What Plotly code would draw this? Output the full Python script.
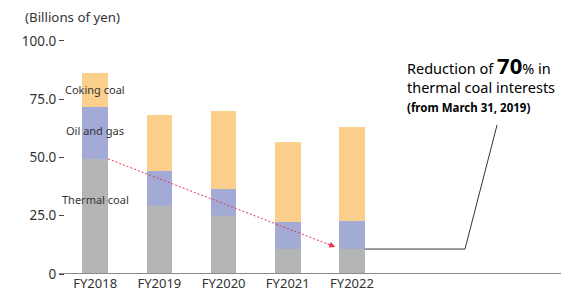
import plotly.graph_objects as go

categories = ["FY2018", "FY2019", "FY2020", "FY2021", "FY2022"]
thermal_coal = [49.4, 29.2, 24.9, 10.7, 10.7]
oil_and_gas = [22.4, 15.0, 11.4, 11.6, 12.2]
coking_coal = [14.5, 24.0, 33.8, 34.2, 40.2]
y_ticks = [0, 25, 50, 75, 100]
y_tick_labels = ["0", "25.0", "50.0", "75.0", "100.0"]

FONT = "Noto Sans"
x_idx = list(range(len(categories)))

fig = go.Figure()
for name, vals, col in [("Thermal coal", thermal_coal, "#B4B6B3"),
                        ("Oil and gas", oil_and_gas, "#A4AAD6"),
                        ("Coking coal", coking_coal, "#FBD08D")]:
    fig.add_trace(go.Bar(x=x_idx, y=vals, name=name, width=0.4,
                         marker=dict(color=col, line=dict(width=0)),
                         hoverinfo="skip"))

# page has an 8px body margin, so the figure is offset by 8px
fig.update_layout(
    barmode="stack", width=569, height=291,
    margin=dict(l=57, r=8, t=22, b=25, autoexpand=False),
    plot_bgcolor="white", paper_bgcolor="white", showlegend=False,
    font=dict(family=FONT, size=12, color="#333"),
    bargap=0,
)
fig.update_xaxes(range=[-0.47, 7.38], tickvals=x_idx, ticktext=categories,
                 showgrid=False, zeroline=False, showline=False, ticks="",
                 tickfont=dict(size=13, color="#333"), automargin=False)
fig.update_yaxes(range=[0, 104.7], tickvals=y_ticks, ticktext=y_tick_labels,
                 showgrid=False, zeroline=False, showline=False,
                 ticks="outside", ticklen=5, tickcolor="#444", tickwidth=1,
                 tickfont=dict(size=13.5, color="#333"), automargin=False)

# baseline
fig.add_shape(type="line", xref="paper", yref="y", x0=-0.012, x1=1.0, y0=0, y1=0,
              line=dict(color="#8a8a8a", width=2), layer="above")

# y-axis title
fig.add_annotation(text="(Billions of yen)", xref="paper", yref="paper",
                   x=-0.0833, y=1.055, xanchor="left", yanchor="middle",
                   showarrow=False, font=dict(size=13.3, color="#333"))

# series labels
for txt, yv in [("Coking coal", 79), ("Oil and gas", 61.4), ("Thermal coal", 31.8)]:
    fig.add_annotation(text=txt, x=0, y=yv, xref="x", yref="y", showarrow=False,
                       font=dict(size=11, color="#333"))

# red dotted arrow
x0, y0 = 0.2, thermal_coal[0]
x1, y1 = 3.74, 11.6
fig.add_shape(type="line", x0=x0, y0=y0, x1=x1, y1=y1, xref="x", yref="y",
              line=dict(color="#E8344E", width=1, dash="2px,2px"))
fig.add_annotation(x=x1, y=y1, xref="x", yref="y", ax=-9.3, ay=-3.6,
                   axref="pixel", ayref="pixel", showarrow=True, arrowhead=2,
                   arrowsize=1.2, arrowwidth=1, arrowcolor="#E8344E", text="")

# callout line
fig.add_shape(type="path", xref="x", yref="y",
              path=f"M 4.2 {thermal_coal[4]} L 5.76 {thermal_coal[4]} L 6.26 64",
              line=dict(color="#333", width=1))

# callout text
fig.add_annotation(
    text=("Reduction of <span style='font-size:22px'><b>70</b></span>% in<br>"
          "thermal coal interests<br>"
          "<span style='font-size:11.5px'><b>(from March 31, 2019)</b></span>"),
    x=4.83, y=82.0, xref="x", yref="y", xanchor="left", yanchor="middle",
    align="left", showarrow=False, font=dict(size=14.5, color="#000"))

fig.write_html("out.html")
